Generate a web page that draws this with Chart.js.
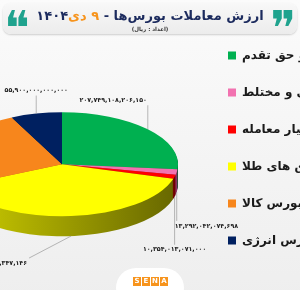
<!DOCTYPE html>
<html>
<head>
<meta charset="utf-8">
<script src="https://cdn.jsdelivr.net/npm/chart.js@4.4.1/dist/chart.umd.min.js"></script>
<style>
  html, body { margin: 0; padding: 0; }
  body {
    width: 300px; height: 300px; overflow: hidden; position: relative;
    background: linear-gradient(#fbfbfb, #eeeeee);
    font-family: "DejaVu Sans", sans-serif;
  }
  #chart { position: absolute; left: -79px; top: 0; }
  .head {
    position: absolute; left: 3px; top: 3px; width: 294px; height: 31px;
    background: linear-gradient(#f8f8f8, #ececec); border-radius: 8px; box-shadow: 0 1px 2px rgba(0,0,0,0.18);
  }
  .title {
    position: absolute; left: 0; right: 0; top: 5px; text-align: center; direction: rtl;
    font-weight: bold; font-size: 13px; color: #1c2b5e; white-space: nowrap;
  }
  .title .d { color: #f7941d; }
  .unit {
    position: absolute; left: 0; right: 0; top: 23px; text-align: center; direction: rtl;
    font-size: 5.5px; font-weight: bold; color: #333;
  }
  .q {
    position: absolute; top: 1px; font-family: "DejaVu Sans", sans-serif;
    font-size: 48px; color: #1fa38e; line-height: 48px;
  }
  .foot { position: absolute; left: 0; top: 290px; width: 300px; height: 10px; background: #fff; }
  .pill { position: absolute; left: 116px; top: 268px; width: 68px; height: 40px; background: #fff; border-radius: 20px; }
  .logo { position: absolute; left: 133px; top: 277px; display: flex; gap: 1px; }
  .logo span {
    width: 8px; height: 9px; background: #f7941d; color: #fff; text-align: center;
    font: bold 7px/9px "DejaVu Sans", sans-serif;
  }
</style>
</head>
<body>
<canvas id="chart" width="379" height="304"></canvas>
<div class="head">
  <div class="q" style="left:1px">❝</div>
  <div class="q" style="right:1px">❞</div>
  <div class="title">ارزش معاملات بورس‌ها - <span class="d">۹ دی</span>۱۴۰۴</div>
  <div class="unit">(اعداد : ریال)</div>
</div>
<div class="pill"></div>
<div class="foot"></div>
<div class="logo"><span>S</span><span>E</span><span>N</span><span>A</span></div>
<script>
// بازارها و ارزش معاملات (ریال)
const markets = [
  "سهام و حق تقدم",
  "صندوق سهامی و مختلط",
  "اختیار معامله",
  "صندوق های طلا",
  "بازار فیزیکی بورس کالا",
  "بازار فیزیکی بورس انرژی",
];
const tradeValues = [207749108206150, 13292042074698, 10354013071000, 301482859347146, 195000000000000, 55900000000000];

const colors = ["#00b050", "#f272b0", "#ff0000", "#ffff00", "#f7861c", "#002060"];
const sideLight = ["#00a048", "#d8609c", "#d00000", "#d4d400", "#e07818", "#102e66"];
const sideDark = ["#005a28", "#8a3060", "#700000", "#666600", "#8a4a08", "#000a22"];

// نمای سه‌بعدی
const TILT = 0.448;
const DEPTH = 20;

// جای برچسب‌ها نسبت به لبه هر برش
const leaders = [
  { dx: 0, dy: -24, align: "right" },
  { dx: 0, dy: 29, align: "left" },
  { dx: 0, dy: 48, align: "center" },
  { dx: -42, dy: 22, align: "right" },
  { dx: -30, dy: -10, align: "right" },
  { dx: 0, dy: -18, align: "center" },
];

function faNum(v) {
  return String(v)
    .replace(/\B(?=(\d{3})+(?!\d))/g, ",")
    .replace(/\d/g, (d) => "۰۱۲۳۴۵۶۷۸۹"[d]);
}

function tilt(ctx, x, y) {
  ctx.translate(x, y);
  ctx.scale(1, TILT);
  ctx.translate(-x, -y);
}

const pie3d = {
  id: "pie3d",
  beforeDatasetsDraw(chart) {
    const ctx = chart.ctx;
    const arcs = chart.getDatasetMeta(0).data;
    const { x, y, outerRadius } = arcs[0];
    for (let d = DEPTH; d > 0; d--) {
      ctx.save();
      ctx.translate(0, d);
      tilt(ctx, x, y);
      arcs.forEach((arc, i) => {
        const g = ctx.createLinearGradient(x - outerRadius, 0, x + outerRadius, 0);
        g.addColorStop(0, sideLight[i]);
        g.addColorStop(1, sideDark[i]);
        ctx.fillStyle = g;
        ctx.beginPath();
        ctx.moveTo(x, y);
        ctx.arc(x, y, outerRadius, arc.startAngle, arc.endAngle);
        ctx.closePath();
        ctx.fill();
      });
      ctx.restore();
    }
    ctx.save();
    tilt(ctx, x, y);
  },
  afterDatasetsDraw(chart) {
    const ctx = chart.ctx;
    ctx.restore();
    const arcs = chart.getDatasetMeta(0).data;
    ctx.save();
    ctx.font = "bold 6.3px 'DejaVu Sans'";
    ctx.fillStyle = "#222";
    ctx.strokeStyle = "#9a9a9a";
    ctx.lineWidth = 0.7;
    ctx.textBaseline = "middle";
    arcs.forEach((arc, i) => {
      const a = (arc.startAngle + arc.endAngle) / 2;
      const s = Math.sin(a);
      const ex = arc.x + arc.outerRadius * Math.cos(a);
      const ey = arc.y + arc.outerRadius * TILT * s + (s > 0 ? DEPTH : 0);
      const L = leaders[i];
      const tx = ex + L.dx, ty = ey + L.dy;
      ctx.beginPath();
      ctx.moveTo(ex, ey);
      ctx.lineTo(tx, ty);
      ctx.stroke();
      ctx.textAlign = L.align;
      const off = L.align === "left" ? -2 : L.align === "right" ? (L.dx < 0 ? -2 : -1) : 0;
      ctx.fillText(faNum(tradeValues[i]), tx + off, ty + (L.dy < 0 ? -5 : 5));
    });
    ctx.restore();
  },
};

new Chart(document.getElementById("chart"), {
  type: "pie",
  data: {
    labels: markets,
    datasets: [{
      data: tradeValues,
      backgroundColor: colors,
      borderWidth: 0,
      radius: 116,
      clip: false,
    }],
  },
  options: {
    responsive: false,
    animation: false,
    events: [],
    layout: { padding: { top: 24.5, bottom: 0, left: 0, right: 0 } },
    plugins: {
      tooltip: { enabled: false },
      legend: {
        position: "right",
        align: "start",
        maxWidth: 97,
        labels: {
          boxWidth: 8,
          boxHeight: 8,
          padding: 25,
          color: "#1a1a1a",
          font: { family: "DejaVu Sans", weight: "bold", size: 12 },
        },
      },
    },
  },
  plugins: [pie3d],
});
</script>
</body>
</html>
